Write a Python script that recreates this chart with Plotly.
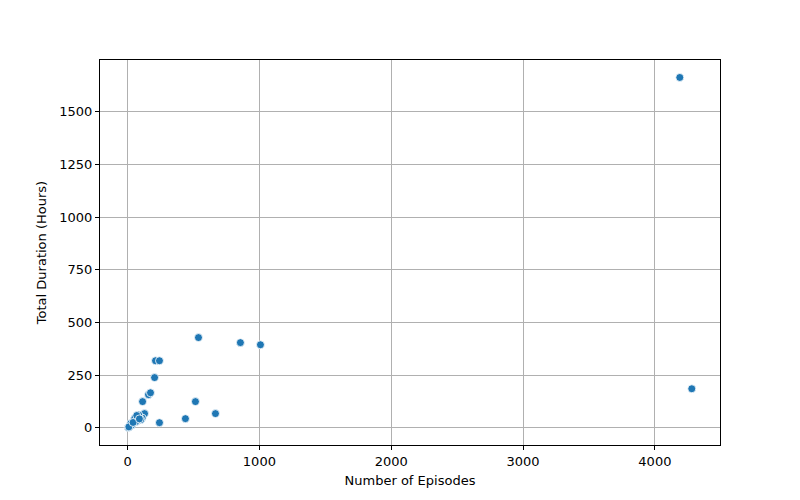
import plotly.graph_objects as go

episodes = [4189, 4280, 538, 856, 1008, 212, 242, 205, 159, 174, 114, 515, 667, 439, 242, 129,
            81, 73, 93, 111, 61, 48, 36, 15, 5, 85, 66, 55, 100, 30, 24, 10, 42, 70, 90]
hours = [1663, 185, 428, 404, 394, 318, 318, 238, 157, 166, 124, 124, 67, 43, 24, 67,
         57, 49, 51, 46, 41, 35, 18, 6, 1, 60, 30, 45, 38, 12, 20, 4, 25, 58, 42]

fig = go.Figure()
fig.add_trace(go.Scatter(
    x=episodes, y=hours, mode="markers",
    marker=dict(color="#1f77b4", size=8, line=dict(color="white", width=0.8)),
    showlegend=False,
))

axis_common = dict(
    showgrid=True, gridcolor="#b0b0b0", gridwidth=0.8,
    showline=True, linecolor="black", linewidth=1, mirror=True,
    ticks="outside", ticklen=4, tickcolor="black", tickwidth=1,
    zeroline=False, automargin=False,
    tickfont=dict(family="DejaVu Sans", size=13, color="black"),
)

# page body has an 8px default margin, so the figure is 792x492 and offset
fig.update_layout(
    width=792, height=492,
    margin=dict(l=92, r=80, t=52, b=55),
    plot_bgcolor="white", paper_bgcolor="white",
    font=dict(family="DejaVu Sans", size=13, color="black"),
    xaxis=dict(range=[-209, 4494], tickvals=[0, 1000, 2000, 3000, 4000],
               title=dict(text="Number of Episodes", standoff=8,
                          font=dict(family="DejaVu Sans", size=13, color="black")),
               **axis_common),
    yaxis=dict(range=[-82, 1746], tickvals=[0, 250, 500, 750, 1000, 1250, 1500],
               title=dict(text="Total Duration (Hours)", standoff=9,
                          font=dict(family="DejaVu Sans", size=13, color="black")),
               **axis_common),
)

fig.write_html("out.html")
